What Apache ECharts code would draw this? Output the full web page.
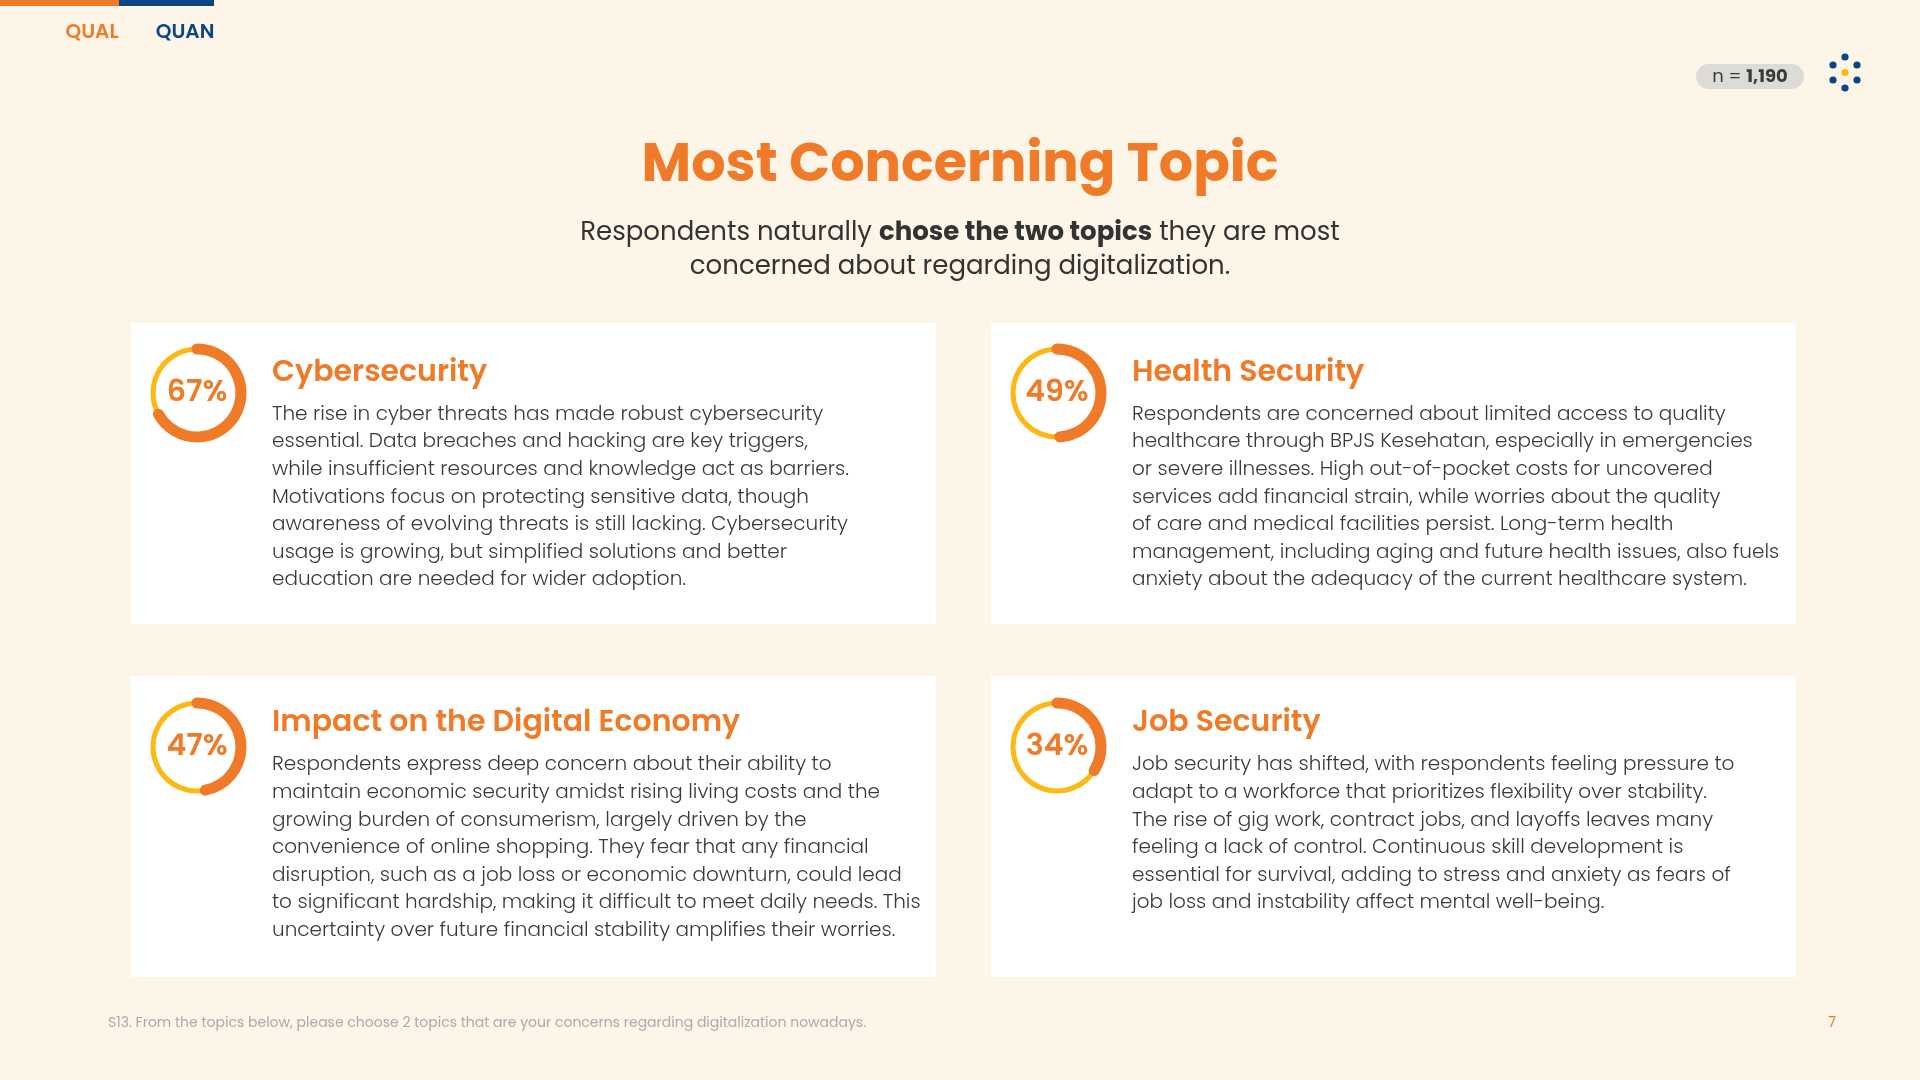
<!DOCTYPE html>
<html>
<head>
    <meta charset="utf-8">
    <title>Most Concerning Topic</title>
    <script src="https://cdn.jsdelivr.net/npm/echarts@6/dist/echarts.min.js"></script>
    <style>
        html, body { margin: 0; padding: 0; background: #fcf5e8; }
    </style>
</head>
<body>
<div id="main" style="width: 1920px;height:1080px;"></div>
<script type="text/javascript">
    // data
    var topics = ['Cybersecurity', 'Health Security', 'Impact on the Digital Economy', 'Job Security'];
    var shares = [67, 49, 47, 34];
    var sampleSize = '1,190';
    var bodyLines = [
        [
            'The rise in cyber threats has made robust cybersecurity',
            'essential. Data breaches and hacking are key triggers,',
            'while insufficient resources and knowledge act as barriers.',
            'Motivations focus on protecting sensitive data, though',
            'awareness of evolving threats is still lacking. Cybersecurity',
            'usage is growing, but simplified solutions and better',
            'education are needed for wider adoption.'
        ],
        [
            'Respondents are concerned about limited access to quality',
            'healthcare through BPJS Kesehatan, especially in emergencies',
            'or severe illnesses. High out-of-pocket costs for uncovered',
            'services add financial strain, while worries about the quality',
            'of care and medical facilities persist. Long-term health',
            'management, including aging and future health issues, also fuels',
            'anxiety about the adequacy of the current healthcare system.'
        ],
        [
            'Respondents express deep concern about their ability to',
            'maintain economic security amidst rising living costs and the',
            'growing burden of consumerism, largely driven by the',
            'convenience of online shopping. They fear that any financial',
            'disruption, such as a job loss or economic downturn, could lead',
            'to significant hardship, making it difficult to meet daily needs. This',
            'uncertainty over future financial stability amplifies their worries.'
        ],
        [
            'Job security has shifted, with respondents feeling pressure to',
            'adapt to a workforce that prioritizes flexibility over stability.',
            'The rise of gig work, contract jobs, and layoffs leaves many',
            'feeling a lack of control. Continuous skill development is',
            'essential for survival, adding to stress and anxiety as fears of',
            'job loss and instability affect mental well-being.'
        ]
    ];

    var FONT = 'Poppins, Lato, sans-serif';
    var ORANGE = '#ef7b28';
    var YELLOW = '#fdb913';
    var BLUE = '#0b4584';
    var TEXT = '#3a3a3a';

    var myChart = echarts.init(document.getElementById('main'));

    // card grid
    var cardX = [131, 991];
    var cardY = [323, 676];
    var textShift = [0, -2.5];
    var ringY = [393, 747];
    var cardW = 805, cardH = 301;

    var graphic = [
        // top tab bar
        {type: 'rect', shape: {x: 0, y: 0, width: 119, height: 6}, style: {fill: ORANGE}},
        {type: 'rect', shape: {x: 119, y: 0, width: 95, height: 6}, style: {fill: BLUE}},
        {type: 'text', x: 92, y: 33, style: {text: 'QUAL', fontFamily: FONT, fontSize: 20, fontWeight: 600, fill: ORANGE, align: 'center', verticalAlign: 'middle'}},
        {type: 'text', x: 185, y: 33, style: {text: 'QUAN', fontFamily: FONT, fontSize: 20, fontWeight: 600, fill: BLUE, align: 'center', verticalAlign: 'middle'}},
        // sample size pill
        {type: 'rect', shape: {x: 1696, y: 64, width: 108, height: 25, r: 12.5}, style: {fill: '#dcdbd7'}},
        {
            type: 'text', x: 1750, y: 77.5,
            style: {
                text: '{a|n = }{b|' + sampleSize + '}', align: 'center', verticalAlign: 'middle',
                rich: {
                    a: {fontFamily: FONT, fontSize: 18, fill: '#3a3a3a'},
                    b: {fontFamily: FONT, fontSize: 18, fontWeight: 'bold', fill: '#3a3a3a'}
                }
            }
        },
        // title
        {type: 'text', x: 960, y: 167, style: {text: 'Most Concerning Topic', fontFamily: FONT, fontSize: 54, fontWeight: 'bold', fill: ORANGE, align: 'center', verticalAlign: 'middle'}},
        {
            type: 'text', x: 960, y: 216,
            style: {
                text: '{n|Respondents naturally }{b|chose the two topics}{n| they are most}\n{n|concerned about regarding digitalization.}',
                align: 'center', verticalAlign: 'top',
                rich: {
                    n: {fontFamily: FONT, fontSize: 26, fill: '#333333', lineHeight: 34},
                    b: {fontFamily: FONT, fontSize: 26, fontWeight: 'bold', fill: '#333333', lineHeight: 34}
                }
            }
        },
        // footnote and page number
        {type: 'text', x: 108, y: 1023, style: {text: 'S13. From the topics below, please choose 2 topics that are your concerns regarding digitalization nowadays.', fontFamily: FONT, fontSize: 14, fill: '#ababab', verticalAlign: 'middle'}},
        {type: 'text', x: 1832, y: 1023, style: {text: '7', fontFamily: FONT, fontSize: 14, fill: ORANGE, align: 'center', verticalAlign: 'middle'}}
    ];

    // logo dots
    var dots = [[1845, 57], [1833, 65], [1857, 65], [1833, 80], [1857, 80], [1845, 88]];
    dots.forEach(function (d) {
        graphic.push({type: 'circle', shape: {cx: d[0], cy: d[1], r: 3.6}, style: {fill: BLUE}});
    });
    graphic.push({type: 'circle', shape: {cx: 1845, cy: 72.5, r: 3.6}, style: {fill: YELLOW}});

    var series = [];
    topics.forEach(function (name, i) {
        var row = Math.floor(i / 2);
        var x0 = cardX[i % 2], y0 = cardY[row], dy = textShift[row];
        graphic.push({type: 'rect', z: -1, shape: {x: x0, y: y0, width: cardW, height: cardH}, style: {fill: '#ffffff'}});
        graphic.push({type: 'text', x: x0 + 141, y: y0 + 50 + dy, style: {text: name, fontFamily: FONT, fontSize: 30, fontWeight: 600, fill: ORANGE, verticalAlign: 'middle'}});
        graphic.push({type: 'text', x: x0 + 141, y: y0 + 78 + dy, style: {text: bodyLines[i].join('\n'), fontFamily: FONT, fontSize: 20, fontWeight: 300, lineHeight: 27.6, fill: TEXT, verticalAlign: 'top'}});

        var c = [x0 + 66, ringY[row]];
        // yellow track
        series.push({
            type: 'gauge', center: c, radius: 46.5, startAngle: 90, endAngle: -270,
            min: 0, max: 100, silent: true,
            axisLine: {lineStyle: {width: 5, color: [[1, YELLOW]]}},
            pointer: {show: false}, axisTick: {show: false}, splitLine: {show: false},
            axisLabel: {show: false}, title: {show: false}, detail: {show: false},
            data: [{value: 0}]
        });
        // orange share
        series.push({
            type: 'gauge', center: c, radius: 49.5, startAngle: 90, endAngle: -270,
            min: 0, max: 100, silent: true,
            axisLine: {show: false},
            progress: {show: true, width: 11, roundCap: true, itemStyle: {color: ORANGE}},
            pointer: {show: false}, axisTick: {show: false}, splitLine: {show: false},
            axisLabel: {show: false}, title: {show: false},
            detail: {
                offsetCenter: [0, 0], formatter: '{value}%', valueAnimation: false,
                fontFamily: FONT, fontSize: 30, fontWeight: 600, color: ORANGE
            },
            data: [{value: shares[i], name: name}]
        });
    });

    option = {
        backgroundColor: '#fcf5e8',
        animation: false,
        graphic: graphic,
        series: series
    };

    myChart.setOption(option);
</script>
</body>
</html>
